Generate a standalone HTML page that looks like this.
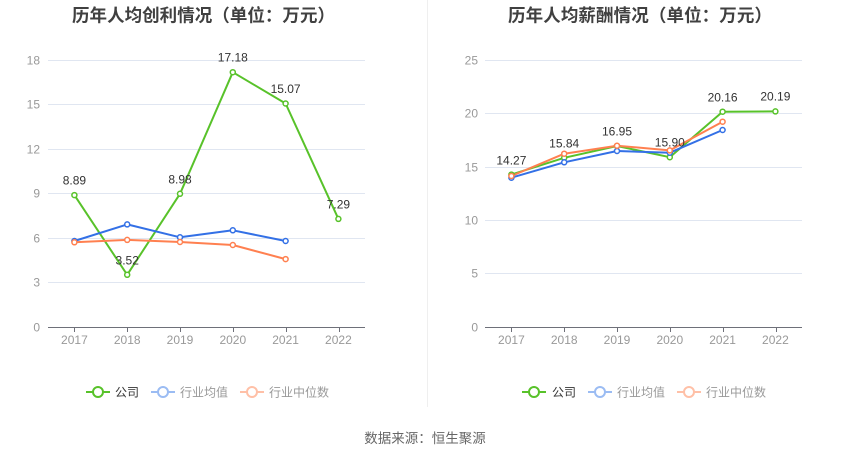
<!DOCTYPE html>
<html>
<head>
<meta charset="utf-8">
<style>
  html,body{margin:0;padding:0;background:#fff;}
  body{width:850px;height:459px;overflow:hidden;}
  svg{display:block;font-family:"Liberation Sans","Noto Sans CJK SC",sans-serif;}
</style>
</head>
<body>
<svg width="850" height="459" viewBox="0 0 850 459" xmlns="http://www.w3.org/2000/svg">
  <rect width="850" height="459" fill="#fff"/>
  <!-- divider -->
  <line x1="427.5" y1="0" x2="427.5" y2="407" stroke="#efefef" stroke-width="1"/>

  <!-- Titles -->
  <text x="72" y="21.5" textLength="263" lengthAdjust="spacing" font-size="17.5" font-weight="bold" fill="#404040">历年人均创利情况（单位：万元）</text>
  <text x="508" y="21.5" textLength="264" lengthAdjust="spacing" font-size="17.5" font-weight="bold" fill="#404040">历年人均薪酬情况（单位：万元）</text>

  <!-- LEFT CHART -->
  <g stroke="#e0e6f1" stroke-width="1">
    <line x1="48" y1="60.5" x2="365" y2="60.5"/>
    <line x1="48" y1="104.5" x2="365" y2="104.5"/>
    <line x1="48" y1="149.5" x2="365" y2="149.5"/>
    <line x1="48" y1="193.5" x2="365" y2="193.5"/>
    <line x1="48" y1="238.5" x2="365" y2="238.5"/>
    <line x1="48" y1="282.5" x2="365" y2="282.5"/>
  </g>
  <line x1="48" y1="327.5" x2="365" y2="327.5" stroke="#6e7079" stroke-width="1"/>
  <g stroke="#6e7079" stroke-width="1">
    <line x1="74.5" y1="327" x2="74.5" y2="332"/>
    <line x1="127.5" y1="327" x2="127.5" y2="332"/>
    <line x1="180.5" y1="327" x2="180.5" y2="332"/>
    <line x1="233.5" y1="327" x2="233.5" y2="332"/>
    <line x1="286.5" y1="327" x2="286.5" y2="332"/>
    <line x1="339.5" y1="327" x2="339.5" y2="332"/>
  </g>
  <g font-size="12" fill="#999" text-anchor="end">
    <text x="40" y="64.5">18</text>
    <text x="40" y="108.5">15</text>
    <text x="40" y="153.5">12</text>
    <text x="40" y="197.5">9</text>
    <text x="40" y="242.5">6</text>
    <text x="40" y="286.5">3</text>
    <text x="40" y="331.5">0</text>
  </g>
  <g font-size="12" fill="#999" text-anchor="middle">
    <text x="74.4" y="344">2017</text>
    <text x="127.2" y="344">2018</text>
    <text x="180" y="344">2019</text>
    <text x="232.8" y="344">2020</text>
    <text x="285.6" y="344">2021</text>
    <text x="338.4" y="344">2022</text>
  </g>
  <!-- series -->
  <g fill="none" stroke-width="2" stroke-linejoin="round">
    <polyline stroke="#58c22a" points="74.4,195.1 127.2,274.8 180,193.8 232.8,72.2 285.6,103.5 338.4,218.9"/>
    <polyline stroke="#3370e6" points="74.4,241.0 127.2,224.4 180,237.3 232.8,230.3 285.6,241.0"/>
    <polyline stroke="#ff8050" points="74.4,242.3 127.2,239.9 180,242.0 232.8,245.0 285.6,259.1"/>
  </g>
  <g fill="#fff" stroke-width="1.5">
    <g stroke="#58c22a">
      <circle cx="74.4" cy="195.1" r="2.5"/><circle cx="127.2" cy="274.8" r="2.5"/><circle cx="180" cy="193.8" r="2.5"/>
      <circle cx="232.8" cy="72.2" r="2.5"/><circle cx="285.6" cy="103.5" r="2.5"/><circle cx="338.4" cy="218.9" r="2.5"/>
    </g>
    <g stroke="#3370e6">
      <circle cx="74.4" cy="241.0" r="2.5"/><circle cx="127.2" cy="224.4" r="2.5"/><circle cx="180" cy="237.3" r="2.5"/>
      <circle cx="232.8" cy="230.3" r="2.5"/><circle cx="285.6" cy="241.0" r="2.5"/>
    </g>
    <g stroke="#ff8050">
      <circle cx="74.4" cy="242.3" r="2.5"/><circle cx="127.2" cy="239.9" r="2.5"/><circle cx="180" cy="242.0" r="2.5"/>
      <circle cx="232.8" cy="245.0" r="2.5"/><circle cx="285.6" cy="259.1" r="2.5"/>
    </g>
  </g>
  <g font-size="12" fill="#333" text-anchor="middle">
    <text x="74.4" y="184.5">8.89</text>
    <text x="127.2" y="264.5">3.52</text>
    <text x="180" y="183.5">8.98</text>
    <text x="232.8" y="61.5">17.18</text>
    <text x="285.6" y="93">15.07</text>
    <text x="338.4" y="208.5">7.29</text>
  </g>
  <!-- legend left -->
  <g stroke-width="2" fill="#fff">
    <line x1="86" y1="392" x2="110" y2="392" stroke="#58c22a"/>
    <circle cx="98" cy="392" r="5" stroke="#58c22a"/>
    <line x1="151" y1="392" x2="175" y2="392" stroke="#9bbcf3"/>
    <circle cx="163" cy="392" r="5" stroke="#9bbcf3"/>
    <line x1="240" y1="392" x2="264" y2="392" stroke="#ffc0a7"/>
    <circle cx="252" cy="392" r="5" stroke="#ffc0a7"/>
  </g>
  <g font-size="12">
    <text x="115" y="396.5" fill="#333">公司</text>
    <text x="180" y="396.5" fill="#999">行业均值</text>
    <text x="269" y="396.5" fill="#999">行业中位数</text>
  </g>

  <!-- RIGHT CHART -->
  <g stroke="#e0e6f1" stroke-width="1">
    <line x1="485" y1="60.5" x2="802" y2="60.5"/>
    <line x1="485" y1="113.5" x2="802" y2="113.5"/>
    <line x1="485" y1="167.5" x2="802" y2="167.5"/>
    <line x1="485" y1="220.5" x2="802" y2="220.5"/>
    <line x1="485" y1="273.5" x2="802" y2="273.5"/>
  </g>
  <line x1="485" y1="327.5" x2="802" y2="327.5" stroke="#6e7079" stroke-width="1"/>
  <g stroke="#6e7079" stroke-width="1">
    <line x1="511.5" y1="327" x2="511.5" y2="332"/>
    <line x1="564.5" y1="327" x2="564.5" y2="332"/>
    <line x1="617.5" y1="327" x2="617.5" y2="332"/>
    <line x1="670.5" y1="327" x2="670.5" y2="332"/>
    <line x1="723.5" y1="327" x2="723.5" y2="332"/>
    <line x1="776.5" y1="327" x2="776.5" y2="332"/>
  </g>
  <g font-size="12" fill="#999" text-anchor="end">
    <text x="478" y="64.5">25</text>
    <text x="478" y="117.5">20</text>
    <text x="478" y="171.5">15</text>
    <text x="478" y="224.5">10</text>
    <text x="478" y="277.5">5</text>
    <text x="478" y="331.5">0</text>
  </g>
  <g font-size="12" fill="#999" text-anchor="middle">
    <text x="511.4" y="344">2017</text>
    <text x="564.2" y="344">2018</text>
    <text x="617" y="344">2019</text>
    <text x="669.8" y="344">2020</text>
    <text x="722.6" y="344">2021</text>
    <text x="775.4" y="344">2022</text>
  </g>
  <g fill="none" stroke-width="2" stroke-linejoin="round">
    <polyline stroke="#58c22a" points="511.4,174.6 564.2,157.8 617,146.0 669.8,157.2 722.6,111.7 775.4,111.4"/>
    <polyline stroke="#3370e6" points="511.4,177.7 564.2,162.3 617,151.0 669.8,152.7 722.6,130.0"/>
    <polyline stroke="#ff8050" points="511.4,176.0 564.2,153.7 617,145.7 669.8,150.4 722.6,121.7"/>
  </g>
  <g fill="#fff" stroke-width="1.5">
    <g stroke="#58c22a">
      <circle cx="511.4" cy="174.6" r="2.5"/><circle cx="564.2" cy="157.8" r="2.5"/><circle cx="617" cy="146.0" r="2.5"/>
      <circle cx="669.8" cy="157.2" r="2.5"/><circle cx="722.6" cy="111.7" r="2.5"/><circle cx="775.4" cy="111.4" r="2.5"/>
    </g>
    <g stroke="#3370e6">
      <circle cx="511.4" cy="177.7" r="2.5"/><circle cx="564.2" cy="162.3" r="2.5"/><circle cx="617" cy="151.0" r="2.5"/>
      <circle cx="669.8" cy="152.7" r="2.5"/><circle cx="722.6" cy="130.0" r="2.5"/>
    </g>
    <g stroke="#ff8050">
      <circle cx="511.4" cy="176.0" r="2.5"/><circle cx="564.2" cy="153.7" r="2.5"/><circle cx="617" cy="145.7" r="2.5"/>
      <circle cx="669.8" cy="150.4" r="2.5"/><circle cx="722.6" cy="121.7" r="2.5"/>
    </g>
  </g>
  <g font-size="12" fill="#333" text-anchor="middle">
    <text x="511.4" y="164.5">14.27</text>
    <text x="564.2" y="147.5">15.84</text>
    <text x="617" y="135.5">16.95</text>
    <text x="669.8" y="146.5">15.90</text>
    <text x="722.6" y="101.5">20.16</text>
    <text x="775.4" y="100.5">20.19</text>
  </g>
  <!-- legend right -->
  <g stroke-width="2" fill="#fff">
    <line x1="522" y1="392" x2="546" y2="392" stroke="#58c22a"/>
    <circle cx="534" cy="392" r="5" stroke="#58c22a"/>
    <line x1="588" y1="392" x2="612" y2="392" stroke="#9bbcf3"/>
    <circle cx="600" cy="392" r="5" stroke="#9bbcf3"/>
    <line x1="677" y1="392" x2="701" y2="392" stroke="#ffc0a7"/>
    <circle cx="689" cy="392" r="5" stroke="#ffc0a7"/>
  </g>
  <g font-size="12">
    <text x="552" y="396.5" fill="#333">公司</text>
    <text x="617" y="396.5" fill="#999">行业均值</text>
    <text x="706" y="396.5" fill="#999">行业中位数</text>
  </g>

  <!-- source -->
  <text x="425" y="443" text-anchor="middle" font-size="13.5" fill="#666">数据来源：恒生聚源</text>
</svg>
</body>
</html>
